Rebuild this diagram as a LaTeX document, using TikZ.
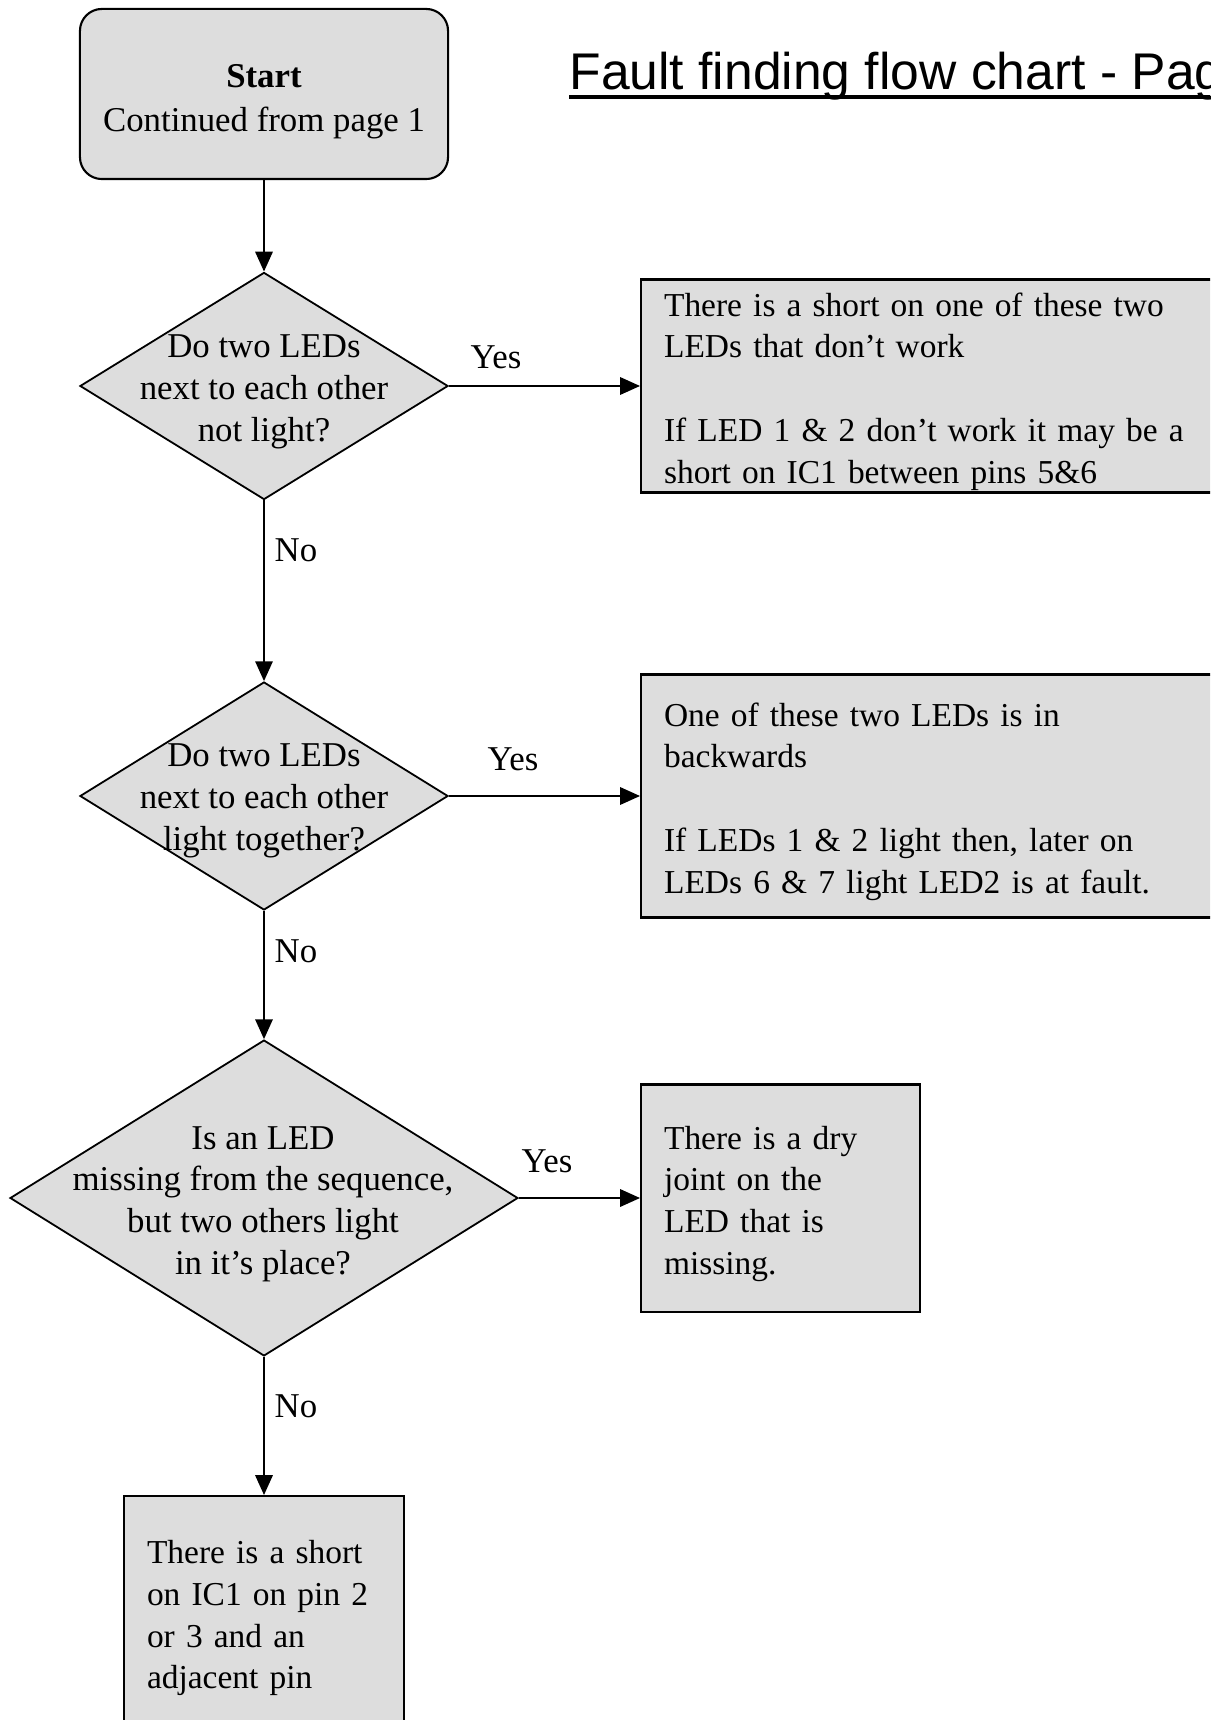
\documentclass[tikz,border=0pt]{standalone}
\usepackage{fontspec}
\usepackage{xcolor}
\setmainfont{Liberation Serif}
\newfontfamily\titlefont{Liberation Sans}
\usetikzlibrary{shapes.geometric,arrows.meta}

\definecolor{boxgray}{RGB}{221,221,221}
\newcommand{\topgap}{\rule{0pt}{11.5pt}}

\tikzset{
    every node/.style={font=\fontsize{11.6}{13.9}\selectfont},
    startbox/.style={draw, line width=0.7pt, fill=boxgray, rounded corners=7.3pt,
        minimum width=122.7pt, minimum height=56.7pt, align=center},
    decision/.style={draw, diamond, line width=0.6pt, fill=boxgray, inner sep=0pt},
    infobox/.style={draw, rectangle, line width=0.7pt, fill=boxgray, align=left,
        font=\fontsize{11.15}{13.9}\selectfont, inner xsep=7.67pt, inner ysep=0pt, anchor=west},
    flowarrow/.style={line width=0.6pt, -{Triangle[length=6.6pt,width=5.8pt]}}
}

\begin{document}
\begin{tikzpicture}[x=0.33333pt, y=-0.33333pt]
        % Page frame (coordinates in pixels, y pointing down)
        \clip (0,0) rectangle (1210,1720);

        % Title
        \node[inner sep=0pt, anchor=base west, font={\titlefont\fontsize{17.2}{20}\selectfont}] (title) at (569,90) {Fault finding flow chart - Page 2};
        \draw[line width=1.1pt] ([yshift=-2.3pt]title.base west) -- ([yshift=-2.3pt]title.base east);

        % Start
        \node[startbox] (start) at (264,94) {\rule{0pt}{13pt}\textbf{Start}\\[0.8pt]Continued from page 1};

        % Decisions (text set on top, it may cross the outline)
        \node[decision, minimum width=122.7pt, minimum height=75.7pt] (dec1) at (264,386) {};
        \node[align=center] (q1) at (264,392) {Do two LEDs\\next to each other\\not light?};

        \node[decision, minimum width=122.7pt, minimum height=76pt] (dec2) at (264,796) {};
        \node[align=center] (q2) at (264,801) {Do two LEDs\\next to each other\\light together?};

        \node[decision, minimum width=169.3pt, minimum height=105.3pt] (dec3) at (264,1198) {};
        \node[align=center] (q3) at (263,1204) {Is an LED\\missing from the sequence,\\but two others light\\in it’s place?};

        % Answers
        \node[infobox, minimum width=200pt, minimum height=71pt, text width=184.7pt] (info1) at (640,386)
            {\topgap There is a short on one of these two\\LEDs that don’t work\\[13.9pt]If LED 1 \& 2 don’t work it may be a\\short on IC1 between pins 5\&6};
        \node[infobox, minimum width=200pt, minimum height=81pt, text width=184.7pt] (info2) at (640,796)
            {\topgap One of these two LEDs is in\\backwards\\[13.9pt]If LEDs 1 \& 2 light then, later on\\LEDs 6 \& 7 light LED2 is at fault.};
        \node[infobox, minimum width=93pt, minimum height=75.7pt, text width=77.7pt] (info3) at (640,1198)
            {\topgap There is a dry\\joint on the\\LED that is\\missing.};
        \node[infobox, anchor=north, minimum width=93.3pt, minimum height=77.7pt, text width=78pt] (fault) at (264,1495)
            {\topgap There is a short\\on IC1 on pin 2\\or 3 and an\\adjacent pin};

        % Yes / No labels
        \node (yes1) at (496,357) {Yes};
        \node (no1) at (296,550) {No};
        \node (yes2) at (513,759) {Yes};
        \node (no2) at (296,951) {No};
        \node (yes3) at (547,1161) {Yes};
        \node (no3) at (296,1406) {No};

        % Connectors
        \draw[flowarrow] (start) -- (dec1);
        \draw[flowarrow] (dec1) -- (info1);
        \draw[flowarrow] (dec1) -- (dec2);
        \draw[flowarrow] (dec2) -- (info2);
        \draw[flowarrow] (dec2) -- (dec3);
        \draw[flowarrow] (dec3) -- (info3);
        \draw[flowarrow] (dec3) -- (fault);
\end{tikzpicture}
\end{document}
